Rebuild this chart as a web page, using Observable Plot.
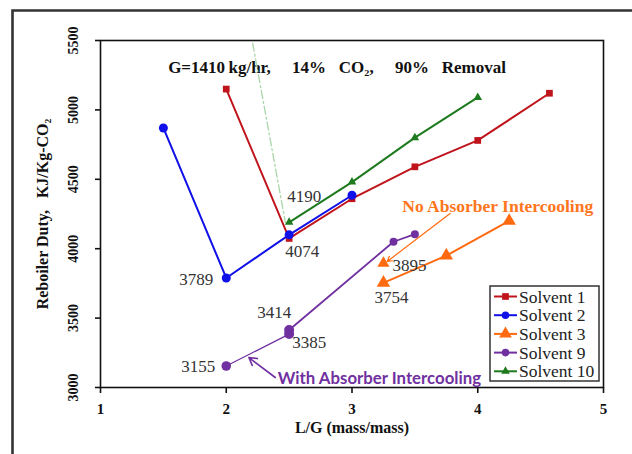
<!DOCTYPE html>
<html><head><meta charset="utf-8">
<script src="https://cdn.jsdelivr.net/npm/d3@7"></script>
<script src="https://cdn.jsdelivr.net/npm/@observablehq/plot@0.6"></script>
<style>body{margin:0;background:#fff} #c{width:632px;height:454px}</style>
</head><body><div id="c"></div>
<script>
// ---- data ----
const xTicks = [1, 2, 3, 4, 5];
const yTicks = [3000, 3500, 4000, 4500, 5000, 5500];

const seriesNames = ["Solvent 1", "Solvent 2", "Solvent 3", "Solvent 9", "Solvent 10"];
const seriesColors = ["#c0141c", "#1010e8", "#ff6a10", "#7030a0", "#1e7a1e"];
const seriesSymbols = ["square", "circle", "triangle", "circle", "triangle"];

const solvent1LG = [2, 2.5, 3, 3.5, 4, 4.57];
const solvent1Duty = [5150, 4074, 4360, 4590, 4780, 5120];
const solvent2LG = [1.5, 2, 2.5, 3];
const solvent2Duty = [4870, 3789, 4100, 4385];
const solvent3LG = [3.25, 3.75, 4.25];
const solvent3Duty = [3754, 3950, 4200];
const solvent3NoCoolLG = [3.25];
const solvent3NoCoolDuty = [3895];
const solvent9CoolLG = [2, 2.5];
const solvent9CoolDuty = [3155, 3385];
const solvent9LG = [2.5, 3.33, 3.5];
const solvent9Duty = [3414, 4050, 4105];
const solvent10LG = [2.5, 3, 3.5, 4];
const solvent10Duty = [4190, 4480, 4800, 5090];
const guideLG = [2.21, 2.47];
const guideDuty = [5480, 4190];

const titleText = "G=1410\u2009kg/hr,\u2003 14%\u2002 CO\u2082,\u2003 90%\u2002 Removal";
const xLabel = "L/G (mass/mass)";
const yLabel = "Reboiler Duty,\u2002 KJ/Kg-CO\u2082";
const noCoolText = "No Absorber Intercooling";
const withCoolText = "With Absorber Intercooling";
const noCoolTextPos = [3.40, 4304];
const withCoolTextPos = [2.41, 3066];
const noCoolArrowLG = [3.78, 3.28];
const noCoolArrowDuty = [4254, 3908];
const withCoolArrowLG = [2.39, 2.18];
const withCoolArrowDuty = [3072, 3216];

// ---- build ----
const pts = (xs, ys) => xs.map((x, i) => ({x, y: ys[i]}));
const s1 = pts(solvent1LG, solvent1Duty);
const s2 = pts(solvent2LG, solvent2Duty);
const s3 = pts(solvent3LG, solvent3Duty);
const s3n = pts(solvent3NoCoolLG, solvent3NoCoolDuty);
const s9c = pts(solvent9CoolLG, solvent9CoolDuty);
const s9 = pts(solvent9LG, solvent9Duty);
const s10 = pts(solvent10LG, solvent10Duty);
const guide = pts(guideLG, guideDuty);

const serif = "Liberation Serif, Times New Roman, serif";
const numStyle = {fill: "#333", fontSize: 17, fontFamily: serif};
const lbl = (d, opts) => Plot.text([d], {x: "x", y: "y", text: d => String(d.y), ...numStyle, ...opts});

const chart = Plot.plot({
  width: 632, height: 454,
  marginLeft: 100, marginRight: 29, marginTop: 40, marginBottom: 67,
  x: {domain: [1, 5]},
  y: {domain: [3000, 5500]},
  style: {fontFamily: serif, background: "white", overflow: "visible"},
  marks: [
    Plot.frame({stroke: "#111", strokeWidth: 1.6}),
    Plot.axisX({ticks: xTicks, tickSize: 6, tickPadding: 10, tickFormat: d => String(d), fontSize: 15, fontWeight: "bold", fontFamily: serif, fill: "#111", stroke: "#111", strokeWidth: 1.6, label: null}),
    Plot.axisY({ticks: yTicks, tickSize: 5, tickFormat: () => "", stroke: "#111", strokeWidth: 1.6, label: null}),
    Plot.text(yTicks, {y: d => d, frameAnchor: "left", textAnchor: "middle", text: d => String(d), rotate: -90, dx: -27, fontSize: 14, fontWeight: "bold", fontFamily: serif, fill: "#111"}),
    Plot.text([xLabel], {frameAnchor: "bottom", text: d => d, dy: 45, fontSize: 16, fontWeight: "bold", fontFamily: serif, fill: "#111"}),
    Plot.text([yLabel], {frameAnchor: "left", textAnchor: "middle", text: d => d, rotate: -90, dx: -58, fontSize: 16, fontWeight: "bold", fontFamily: serif, fill: "#111"}),
    Plot.text([titleText], {frameAnchor: "top", text: d => d, dx: -15, dy: 20, fontSize: 17, fontWeight: "bold", fontFamily: serif, fill: "#111"}),
    // guide dash-dot
    Plot.line(guide, {x: "x", y: "y", stroke: "#a9d6a9", strokeWidth: 1.3, strokeDasharray: "8,3,2,3"}),
    // series lines
    Plot.line(s1, {x: "x", y: "y", stroke: seriesColors[0], strokeWidth: 2}),
    Plot.line(s2, {x: "x", y: "y", stroke: seriesColors[1], strokeWidth: 2}),
    Plot.line(s10, {x: "x", y: "y", stroke: seriesColors[4], strokeWidth: 2}),
    Plot.line(s3, {x: "x", y: "y", stroke: seriesColors[2], strokeWidth: 2}),
    Plot.line(s9c, {x: "x", y: "y", stroke: seriesColors[3], strokeWidth: 1.3}),
    Plot.line(s9, {x: "x", y: "y", stroke: seriesColors[3], strokeWidth: 1.8}),
    // markers
    Plot.dot(s1, {x: "x", y: "y", symbol: "square", fill: seriesColors[0], r: 3.8}),
    Plot.dot(s2, {x: "x", y: "y", symbol: "circle", fill: seriesColors[1], r: 4.5}),
    Plot.dot(s10, {x: "x", y: "y", symbol: "triangle", fill: seriesColors[4], r: 3.2}),
    Plot.dot(s3, {x: "x", y: "y", symbol: "triangle", fill: seriesColors[2], r: 5}),
    Plot.dot(s3n, {x: "x", y: "y", symbol: "triangle", fill: seriesColors[2], r: 4.5}),
    Plot.dot([s9c[0]], {x: "x", y: "y", symbol: "circle", fill: seriesColors[3], r: 4.8}),
    Plot.dot([s9c[1], s9[0]], {x: "x", y: "y", symbol: "circle", fill: seriesColors[3], r: 5}),
    Plot.dot(s9.slice(1), {x: "x", y: "y", symbol: "circle", fill: seriesColors[3], r: 4}),
    // value labels
    lbl(s10[0], {textAnchor: "start", dx: -2, dy: -26}),
    lbl(s1[1], {textAnchor: "start", dx: -4, dy: 13}),
    lbl(s2[1], {textAnchor: "end", dx: -13, dy: 2}),
    lbl(s3n[0], {textAnchor: "start", dx: 9, dy: 2}),
    lbl(s3[0], {textAnchor: "middle", dx: 8, dy: 15}),
    lbl(s9[0], {textAnchor: "end", dx: 2, dy: -17}),
    lbl(s9c[1], {textAnchor: "start", dx: 3, dy: 8}),
    lbl(s9c[0], {textAnchor: "end", dx: -11, dy: 1}),
    // annotations
    Plot.arrow([0], {x1: () => noCoolArrowLG[0], y1: () => noCoolArrowDuty[0], x2: () => noCoolArrowLG[1], y2: () => noCoolArrowDuty[1], stroke: seriesColors[2], strokeWidth: 1.2, headLength: 7}),
    Plot.arrow([0], {x1: () => withCoolArrowLG[0], y1: () => withCoolArrowDuty[0], x2: () => withCoolArrowLG[1], y2: () => withCoolArrowDuty[1], stroke: seriesColors[3], strokeWidth: 1.6, headLength: 8}),
    Plot.text([noCoolText], {x: () => noCoolTextPos[0], y: () => noCoolTextPos[1], text: d => d, textAnchor: "start", fill: "#ff7520", fontSize: 17.5, fontWeight: "bold", fontFamily: serif}),
    Plot.text([withCoolText], {x: () => withCoolTextPos[0], y: () => withCoolTextPos[1], text: d => d, textAnchor: "start", fill: seriesColors[3], fontSize: 16.8, fontWeight: "bold", fontFamily: "Lato, Open Sans, sans-serif"})
  ]
});
document.getElementById("c").appendChild(chart);

// outer figure frame and legend
const svg = d3.select(chart);
svg.append("path").attr("d", "M12.5,454 V10.5 H632").attr("fill", "none").attr("stroke", "#333").attr("stroke-width", 2.6);
const lg = svg.append("g");
lg.append("rect").attr("x", 490).attr("y", 286).attr("width", 109).attr("height", 95)
  .attr("fill", "white").attr("stroke", "#333").attr("stroke-width", 1.5);
const symMap = {square: d3.symbolSquare, circle: d3.symbolCircle, triangle: d3.symbolTriangle};
seriesNames.forEach((name, i) => {
  const y = 296.5 + i * 18.7;
  lg.append("line").attr("x1", 494).attr("x2", 517).attr("y1", y).attr("y2", y)
    .attr("stroke", seriesColors[i]).attr("stroke-width", 2);
  const size = seriesSymbols[i] === "triangle" && i === 2 ? 70 : seriesSymbols[i] === "triangle" ? 32 : 45;
  lg.append("path").attr("d", d3.symbol(symMap[seriesSymbols[i]], size)())
    .attr("transform", `translate(505.5,${y})`).attr("fill", seriesColors[i]);
  lg.append("text").attr("x", 519).attr("y", y).attr("dy", "0.35em").attr("text-anchor", "start")
    .attr("font-family", serif).attr("font-size", 17.5).attr("fill", "#222").text(name);
});
</script>
</body></html>
